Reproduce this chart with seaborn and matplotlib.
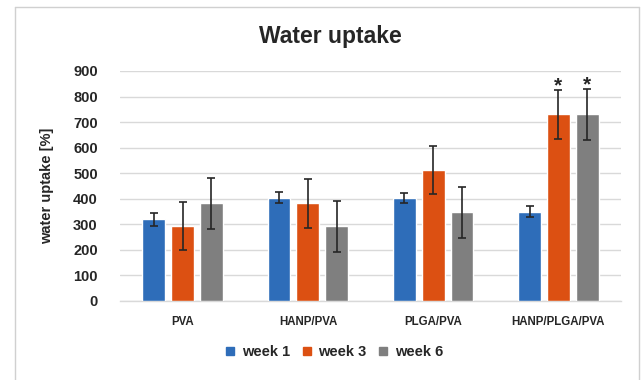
import matplotlib
matplotlib.use("Agg")
import matplotlib.pyplot as plt
import seaborn as sns
import pandas as pd
import numpy as np
from matplotlib.lines import Line2D

categories = ["PVA", "HANP/PVA", "PLGA/PVA", "HANP/PLGA/PVA"]
weeks = ["week 1", "week 3", "week 6"]
week1 = [320, 404, 404, 350]
week3 = [293, 382, 512, 730]
week6 = [383, 293, 348, 730]
err1 = [25, 22, 20, 22]
err3 = [95, 95, 95, 95]
err6 = [100, 100, 100, 100]
significant = {("HANP/PLGA/PVA", "week 3"), ("HANP/PLGA/PVA", "week 6")}
colors = ["#2E6DB9", "#DC5012", "#7F7F7F"]

rows = []
for w, vals, errs in zip(weeks, [week1, week3, week6], [err1, err3, err6]):
    for c, v, e in zip(categories, vals, errs):
        rows.append({"group": c, "week": w, "value": v, "err": e})
df = pd.DataFrame(rows)

sns.set_theme(style="white")
plt.rcParams["font.family"] = ["Liberation Sans", "DejaVu Sans"]

fig = plt.figure(figsize=(6.41, 3.80), dpi=100)
ax = fig.add_axes([120 / 641, 79 / 380, 501 / 641, 230 / 380])

sns.barplot(data=df, x="group", y="value", hue="week", order=categories,
            hue_order=weeks, palette=colors, width=0.69, gap=0.21,
            errorbar=None, ax=ax, legend=False, zorder=3, saturation=1)

# error bars at bar centers
for wi, w in enumerate(weeks):
    cont = ax.containers[wi]
    sub = df[df.week == w].set_index("group").loc[categories]
    xs = [p.get_x() + p.get_width() / 2 for p in cont.patches]
    ax.errorbar(xs, sub["value"].values, yerr=sub["err"].values, fmt="none",
                ecolor="#262626", elinewidth=1.2, capsize=2.8, capthick=1.2, zorder=4)
    for x, (g, r) in zip(xs, sub.iterrows()):
        if (g, w) in significant:
            ax.annotate("*", (x, r["value"] + r["err"]), xytext=(0, -4),
                        textcoords="offset points", ha="center", va="bottom",
                        fontsize=15, fontweight="bold", color="#262626")

ax.set_ylim(0, 900)
ax.set_xlim(-0.5, 3.5)
ax.set_yticks(np.arange(0, 901, 100))
ax.yaxis.grid(True, color="#D9D9D9", linewidth=1, zorder=0)
ax.set_axisbelow(True)
for s in ["top", "right", "left"]:
    ax.spines[s].set_visible(False)
ax.spines["bottom"].set_color("#D9D9D9")
ax.spines["bottom"].set_linewidth(1)
ax.tick_params(axis="both", length=0, colors="#262626")
ax.tick_params(axis="y", pad=16)
ax.tick_params(axis="x", pad=11)
for lab in ax.get_yticklabels():
    lab.set_fontweight("bold"); lab.set_fontsize(10.5)
for lab in ax.get_xticklabels():
    lab.set_fontweight("bold"); lab.set_fontsize(8.3)
ax.set_xlabel("")
ax.set_ylabel("water uptake [%]", fontsize=10.5, fontweight="bold", color="#262626", labelpad=14)

fig.text(330 / 641, 1 - 37 / 380, "Water uptake", ha="center", va="center",
         fontsize=16.5, fontweight="bold", color="#262626")

handles = [Line2D([], [], marker="s", linestyle="none", markersize=6,
                  markerfacecolor=c, markeredgecolor=c) for c in colors]
fig.legend(handles, weeks, loc="center", bbox_to_anchor=(334 / 641, 1 - 352 / 380), ncol=3,
           frameon=False, handlelength=0.7, handletextpad=0.45, columnspacing=0.8,
           prop={"weight": "bold", "size": 10.5, "family": "Liberation Sans"})

# outer chart frame
frame_kw = dict(color="#D0D0D0", linewidth=1, transform=fig.transFigure)
x0, x1, yt = 15 / 641, 639 / 641, 1 - 7 / 380
fig.add_artist(Line2D([x0, x0], [0, yt], **frame_kw))
fig.add_artist(Line2D([x1, x1], [0, yt], **frame_kw))
fig.add_artist(Line2D([x0, x1], [yt, yt], **frame_kw))

fig.savefig("out.png", dpi=100)
